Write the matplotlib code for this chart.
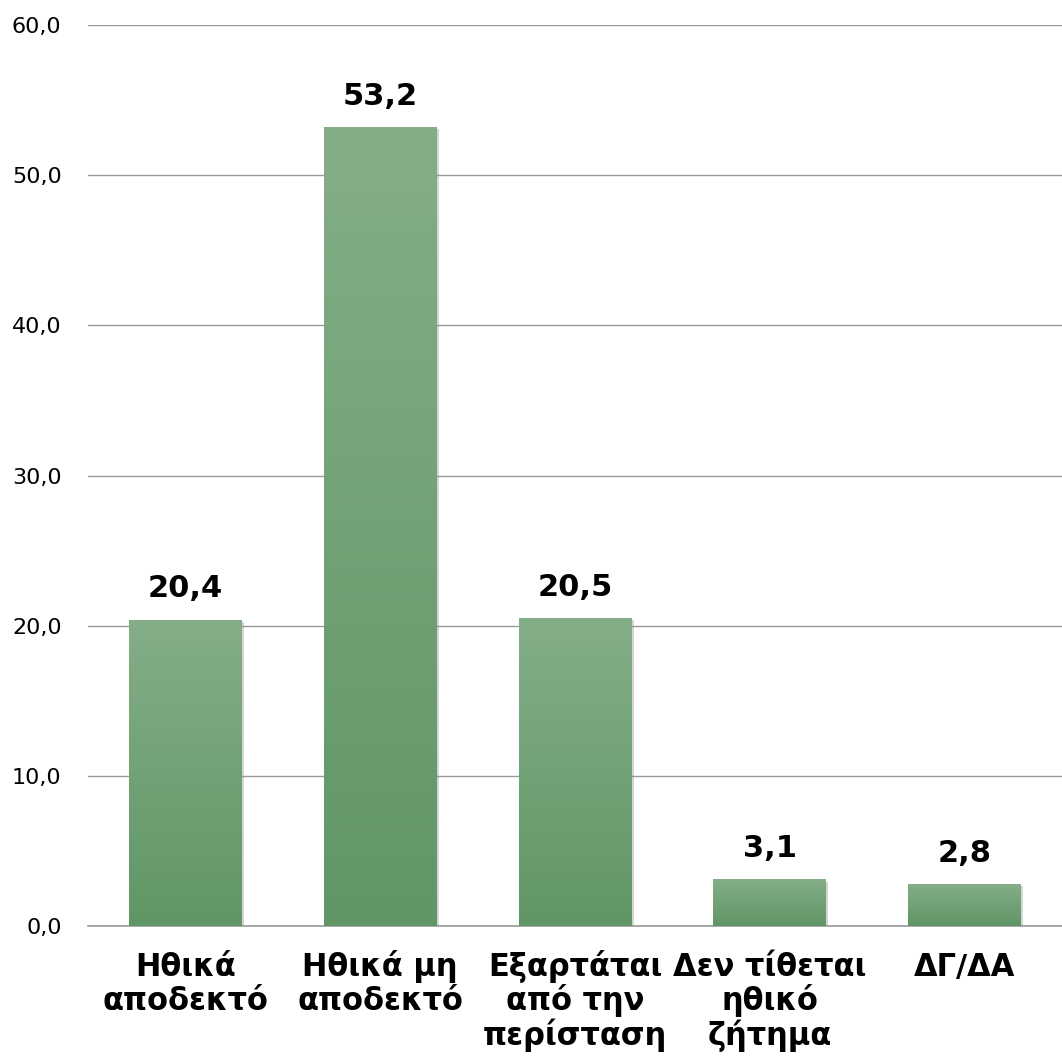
import matplotlib
matplotlib.use("Agg")
import matplotlib.pyplot as plt
import matplotlib.patheffects as pe
import numpy as np
from matplotlib.colors import LinearSegmentedColormap

# data
categories = ["Ηθικά\nαποδεκτό", "Ηθικά μη\nαποδεκτό", "Εξαρτάται\nαπό την\nπερίσταση",
              "Δεν τίθεται\nηθικό\nζήτημα", "ΔΓ/ΔΑ"]
values = [20.4, 53.2, 20.5, 3.1, 2.8]
value_labels = ["20,4", "53,2", "20,5", "3,1", "2,8"]
yticks = [0, 10, 20, 30, 40, 50, 60]
ytick_labels = ["0,0", "10,0", "20,0", "30,0", "40,0", "50,0", "60,0"]

plt.rcParams['font.family'] = ['DejaVu Sans']

fig = plt.figure(figsize=(10.62, 10.63), dpi=100)
ax = fig.add_axes([88/1062, 137/1063, 974/1062, 901/1063])

x = np.arange(len(categories))
bars = ax.bar(x, values, width=0.58, color='#6fa173', zorder=2,
              path_effects=[pe.SimplePatchShadow(offset=(1.5, -1.5), shadow_rgbFace='#888888', alpha=0.35),
                            pe.Normal()])

# vertical gradient on each bar: lighter top, darker bottom
cmap = LinearSegmentedColormap.from_list('g', ['#609666', '#84ae88'])
grad = np.linspace(0, 1, 256).reshape(-1, 1)
for bar in bars:
    x0, y0 = bar.get_x(), bar.get_y()
    w, h = bar.get_width(), bar.get_height()
    im = ax.imshow(grad, cmap=cmap, origin='lower', aspect='auto',
                   extent=[x0, x0 + w, y0, y0 + h], zorder=3)
    im.set_clip_path(bar)

for xi, v, lab in zip(x, values, value_labels):
    ax.annotate(lab, (xi, v), xytext=(0, 16), textcoords='offset points',
                ha='center', va='baseline', fontsize=22, fontweight='bold', color='black')

# category labels, one text per line so every baseline lines up
for xi, cat in zip(x, categories):
    for k, line in enumerate(cat.split('\n')):
        ax.annotate(line, (xi, 0), xycoords=('data', 'axes fraction'),
                    xytext=(0, -36 - 24.8 * k), textcoords='offset points',
                    ha='center', va='baseline', fontsize=22, fontweight='bold',
                    color='black', annotation_clip=False)

ax.set_xlim(-0.5, len(categories) - 0.5)
ax.set_ylim(0, 60)
ax.set_yticks(yticks)
ax.set_yticklabels(ytick_labels, fontsize=16)
ax.set_xticks(x)
ax.set_xticklabels([])
ax.tick_params(axis='both', length=0)
ax.tick_params(axis='y', pad=19)
ax.grid(axis='y', color='#999999', linewidth=1.0, zorder=0)
ax.axhline(0, color='#999999', linewidth=1.2, zorder=1, clip_on=False)
ax.set_axisbelow(True)
for s in ax.spines.values():
    s.set_visible(False)

fig.savefig('out.png', dpi=100, facecolor='white')
